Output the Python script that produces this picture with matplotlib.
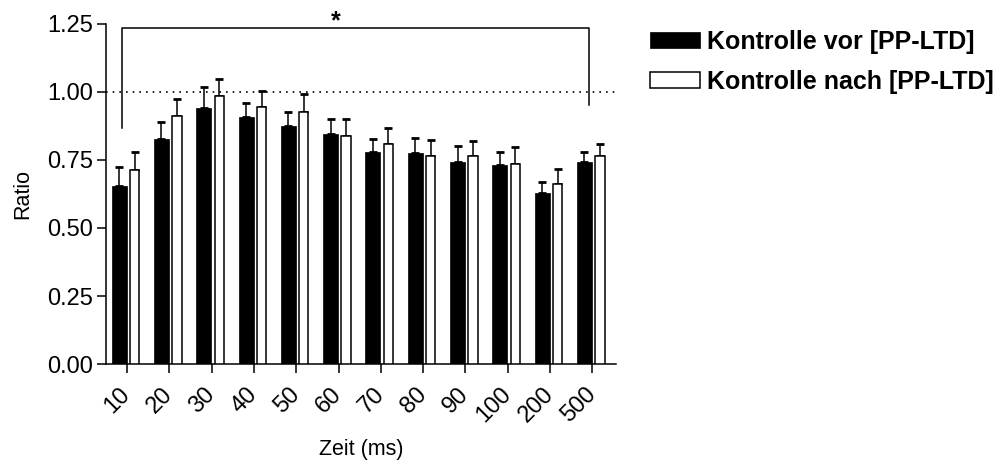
import matplotlib
matplotlib.use("Agg")
import matplotlib.pyplot as plt
import numpy as np

plt.rcParams['font.family'] = ['Liberation Sans', 'DejaVu Sans']

# Paired-pulse ratio per inter-stimulus interval
intervals = ['10', '20', '30', '40', '50', '60', '70', '80', '90', '100', '200', '500']
vor_mean = [0.656, 0.826, 0.940, 0.908, 0.875, 0.846, 0.778, 0.774, 0.744, 0.733, 0.628, 0.742]
vor_sem = [0.069, 0.065, 0.078, 0.052, 0.053, 0.053, 0.051, 0.058, 0.057, 0.048, 0.042, 0.039]
nach_mean = [0.714, 0.913, 0.986, 0.943, 0.926, 0.840, 0.810, 0.763, 0.764, 0.735, 0.663, 0.763]
nach_sem = [0.066, 0.062, 0.060, 0.061, 0.066, 0.060, 0.056, 0.060, 0.055, 0.062, 0.054, 0.047]
yticks = [0.00, 0.25, 0.50, 0.75, 1.00, 1.25]
labels = ['Kontrolle vor [PP-LTD]', 'Kontrolle nach [PP-LTD]']

fig = plt.figure(figsize=(10.06, 4.63), dpi=100)
ax = fig.add_axes([0.1054, 0.2138, 0.5069, 0.7344])

x = np.arange(len(intervals))
off_vor, off_nach = -0.185, 0.18
w_vor, w_nach = 0.355, 0.22
lw = 1.1

b1 = ax.bar(x + off_vor, vor_mean, w_vor, color='black', edgecolor='black',
            linewidth=0.5, zorder=3, label=labels[0])
b2 = ax.bar(x + off_nach, nach_mean, w_nach, color='white', edgecolor='black',
            linewidth=lw, zorder=3, label=labels[1])

zeros = np.zeros(len(intervals))
ax.errorbar(x + off_vor, vor_mean, yerr=[zeros, vor_sem], fmt='none',
            ecolor='black', elinewidth=lw, capsize=2.6, capthick=2.0, zorder=2)
ax.errorbar(x + off_nach, nach_mean, yerr=[zeros, nach_sem], fmt='none',
            ecolor='black', elinewidth=lw, capsize=2.6, capthick=2.0, zorder=2)

# reference line at ratio 1
ax.axhline(1.0, color='black', linestyle=(0, (1, 3)), linewidth=1.2, zorder=1)

# significance bracket between 10 ms and 500 ms
xl, xr, ytop = x[0] - 0.11, x[-1] - 0.07, 1.234
ax.plot([xl, xl, xr, xr], [0.868, ytop, ytop, 0.951], color='black',
        linewidth=1.1, clip_on=False, zorder=4)
ax.text(4.94, 1.216, '*', ha='center', va='bottom', fontsize=18,
        fontweight='bold', clip_on=False)

ax.set_xlim(-0.496, 11.56)
ax.set_ylim(0, 1.25)
ax.set_yticks(yticks)
ax.set_yticklabels([f'{v:.2f}' for v in yticks])
ax.set_xticks(x)
ax.set_xticklabels(intervals, rotation=45, ha='right', va='center',
                   rotation_mode='anchor')

for s in ['top', 'right']:
    ax.spines[s].set_visible(False)
for s in ['left', 'bottom']:
    ax.spines[s].set_linewidth(1.1)

ax.tick_params(axis='both', direction='out', length=6.5, width=1.1,
               labelsize=17)
ax.tick_params(axis='y', pad=3)
ax.tick_params(axis='x', pad=13)

ax.set_ylabel('Ratio', fontsize=15.5, labelpad=10)
ax.set_xlabel('Zeit (ms)', fontsize=15.5, labelpad=9)

fig.legend(handles=[b1, b2], loc='upper left', bbox_to_anchor=(0.636, 0.957),
           frameon=False, prop={'weight': 'bold', 'size': 18},
           handlelength=2.0, handleheight=0.6, handletextpad=0.3,
           labelspacing=0.65, borderaxespad=0)

fig.savefig('out.png', dpi=100)
